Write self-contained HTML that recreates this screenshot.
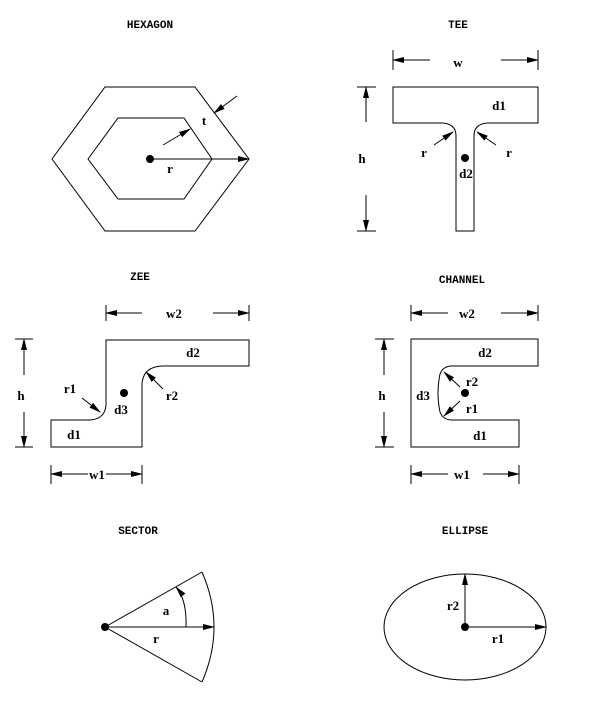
<!DOCTYPE html>
<html><head><style>body{margin:0;background:#fff}svg{display:block}
text{font-family:"Liberation Serif",serif;font-weight:bold;font-size:13px;text-anchor:middle}
.t{font-family:"Liberation Mono",monospace;font-size:11px}</style></head><body>
<svg width="605" height="710" viewBox="0 0 605 710" xmlns="http://www.w3.org/2000/svg">
<defs><marker id="a" markerWidth="12" markerHeight="8" refX="11" refY="4" orient="auto" markerUnits="userSpaceOnUse"><path d="M0,1 L12,4 L0,7 Z" fill="#000"/></marker></defs>
<g fill="none" stroke="#000" stroke-width="1">
<polygon points="52,159 105,87 195,87 249,159 195,231 105,231"/>
<polygon points="88,159 118,118 184,118 212,159 184,199 118,199"/>
<line x1="150" y1="159" x2="249" y2="159" marker-end="url(#a)"/>
<line x1="163" y1="145" x2="190" y2="129" marker-end="url(#a)"/>
<line x1="237" y1="96" x2="214" y2="113" marker-end="url(#a)"/>
<path d="M393,87 H538 V123 H487 Q474,124 474,136 V231 H456 V136 Q456,124 443,123 H393 Z"/>
<line x1="393" y1="50" x2="393" y2="70"/><line x1="538" y1="50" x2="538" y2="70"/>
<line x1="430" y1="60" x2="393" y2="60" marker-end="url(#a)"/><line x1="501" y1="60" x2="538" y2="60" marker-end="url(#a)"/>
<line x1="357" y1="87" x2="376" y2="87"/><line x1="357" y1="231" x2="376" y2="231"/>
<line x1="366" y1="122" x2="366" y2="87" marker-end="url(#a)"/><line x1="366" y1="195" x2="366" y2="231" marker-end="url(#a)"/>
<line x1="434" y1="145" x2="453" y2="132" marker-end="url(#a)"/>
<line x1="496" y1="145" x2="477" y2="132" marker-end="url(#a)"/>
<path d="M106,340 H249 V366 H162 Q143,367 142,384 V447 H51 V420 H90 Q105,419 106,405 Z"/>
<line x1="106" y1="305" x2="106" y2="321"/><line x1="249" y1="305" x2="249" y2="321"/>
<line x1="142" y1="313" x2="106" y2="313" marker-end="url(#a)"/><line x1="213" y1="313" x2="249" y2="313" marker-end="url(#a)"/>
<line x1="15" y1="339" x2="33" y2="339"/><line x1="15" y1="447" x2="33" y2="447"/>
<line x1="24" y1="375" x2="24" y2="339" marker-end="url(#a)"/><line x1="24" y1="412" x2="24" y2="447" marker-end="url(#a)"/>
<line x1="51" y1="465" x2="51" y2="484"/><line x1="142" y1="465" x2="142" y2="484"/>
<line x1="88" y1="474" x2="51" y2="474" marker-end="url(#a)"/><line x1="106" y1="474" x2="142" y2="474" marker-end="url(#a)"/>
<line x1="82" y1="398" x2="100" y2="412" marker-end="url(#a)"/>
<line x1="163" y1="389" x2="146" y2="372" marker-end="url(#a)"/>
<path d="M411,339 H538 V366 H452 Q443,366 440,374 Q436,393 440,412 Q443,420 452,420 H519 V447 H411 Z"/>
<line x1="411" y1="305" x2="411" y2="321"/><line x1="538" y1="305" x2="538" y2="321"/>
<line x1="448" y1="313" x2="411" y2="313" marker-end="url(#a)"/><line x1="501" y1="313" x2="538" y2="313" marker-end="url(#a)"/>
<line x1="375" y1="339" x2="394" y2="339"/><line x1="375" y1="447" x2="394" y2="447"/>
<line x1="384" y1="375" x2="384" y2="339" marker-end="url(#a)"/><line x1="384" y1="412" x2="384" y2="447" marker-end="url(#a)"/>
<line x1="411" y1="465" x2="411" y2="484"/><line x1="519" y1="465" x2="519" y2="484"/>
<line x1="448" y1="474" x2="411" y2="474" marker-end="url(#a)"/><line x1="483" y1="474" x2="519" y2="474" marker-end="url(#a)"/>
<line x1="460" y1="387" x2="444" y2="372" marker-end="url(#a)"/>
<line x1="460" y1="401" x2="444" y2="416" marker-end="url(#a)"/>
<line x1="105" y1="627" x2="202" y2="572"/><line x1="105" y1="627" x2="202" y2="682"/>
<path d="M202,572 Q226,627 202,682"/>
<line x1="105" y1="627" x2="214" y2="627" marker-end="url(#a)"/>
<path d="M186,627 Q187,600 176,587" marker-end="url(#a)"/>
<ellipse cx="465" cy="627" rx="81" ry="53"/>
<line x1="465" y1="627" x2="465" y2="574" marker-end="url(#a)"/>
<line x1="465" y1="627" x2="546" y2="627" marker-end="url(#a)"/>
</g>
<g fill="#000"><circle cx="150" cy="159" r="4"/><circle cx="465" cy="158" r="4"/><circle cx="124" cy="393" r="4"/><circle cx="465" cy="393" r="4"/><circle cx="105" cy="627" r="4"/><circle cx="465" cy="627" r="4"/></g>
<text class="t" x="150" y="28">HEXAGON</text><text class="t" x="458" y="28">TEE</text>
<text class="t" x="140" y="280">ZEE</text><text class="t" x="462" y="283">CHANNEL</text>
<text class="t" x="138" y="534">SECTOR</text><text class="t" x="465" y="534">ELLIPSE</text>
<text x="204" y="125">t</text><text x="170" y="173">r</text>
<text x="458" y="67">w</text><text x="499" y="110">d1</text><text x="362" y="163">h</text><text x="424" y="157">r</text><text x="509" y="157">r</text><text x="466" y="178">d2</text>
<text x="174" y="318">w2</text><text x="193" y="357">d2</text><text x="21" y="400">h</text><text x="70" y="393">r1</text><text x="172" y="400">r2</text><text x="121" y="414">d3</text><text x="74" y="439">d1</text><text x="97" y="479">w1</text>
<text x="467" y="318">w2</text><text x="485" y="357">d2</text><text x="382" y="400">h</text><text x="423" y="400">d3</text><text x="472" y="386">r2</text><text x="472" y="413">r1</text><text x="480" y="440">d1</text><text x="462" y="479">w1</text>
<text x="166" y="615">a</text><text x="156" y="643">r</text>
<text x="453" y="610">r2</text><text x="498" y="643">r1</text>
</svg></body></html>
